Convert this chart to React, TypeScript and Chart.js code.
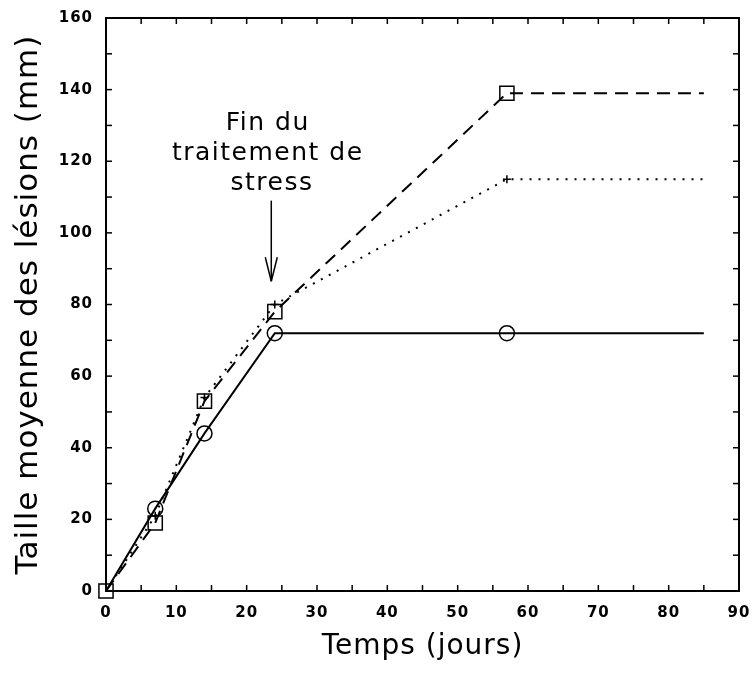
import React, { useEffect, useRef } from 'react';
import { Chart, registerables } from 'chart.js';

Chart.register(...registerables);

// ---- data ----
const days = [0, 7, 14, 24, 57, 85];
const solidSeries = [0, 23, 44, 72, 72, 72];
const dashedSeries = [0, 19, 53, 78, 139, 139];
const dottedSeries = [0, 21, 54, 80, 115, 115];
const xTickValues = [0, 10, 20, 30, 40, 50, 60, 70, 80, 90];
const yTickValues = [0, 20, 40, 60, 80, 100, 120, 140, 160];
const annotationLines = ['Fin du', 'traitement de', 'stress'];
const annotationLineDays = [23, 23, 23.6];
const annotationLineValues = [130.6, 122.2, 113.8];
const arrowDay = 23.5;
const arrowFromValue = 109;
const arrowToValue = 86.5;

const W = 753;
const H = 674;
const FONT = "'DejaVu Sans', sans-serif";

const spacingPlugin = {
  id: 'letterSpacing',
  beforeDraw(chart: any) {
    (chart.ctx as any).letterSpacing = '1px';
  },
};

const framePlugin = {
  id: 'frameTicks',
  afterDraw(chart: any) {
    const { ctx, chartArea, scales } = chart;
    const { left, right, top, bottom } = chartArea;
    const x = scales.x;
    const y = scales.y;
    ctx.save();
    ctx.strokeStyle = '#000';
    ctx.lineWidth = 2;
    ctx.strokeRect(left, top, right - left, bottom - top);
    ctx.lineWidth = 1.5;
    const seg = (a: number, b: number, c: number, d: number) => {
      ctx.beginPath();
      ctx.moveTo(a, b);
      ctx.lineTo(c, d);
      ctx.stroke();
    };
    for (let v = 5; v < 90; v += 5) {
      const px = x.getPixelForValue(v);
      seg(px, bottom, px, bottom - 6);
      seg(px, top, px, top + 6);
    }
    for (let v = 10; v < 160; v += 10) {
      const py = y.getPixelForValue(v);
      seg(left, py, left + 6, py);
      seg(right, py, right - 6, py);
    }
    // annotation arrow
    const ax = x.getPixelForValue(arrowDay);
    const ay0 = y.getPixelForValue(arrowFromValue);
    const ay1 = y.getPixelForValue(arrowToValue);
    ctx.lineWidth = 1.5;
    seg(ax, ay0, ax, ay1);
    seg(ax - 6, ay1 - 24, ax, ay1);
    seg(ax + 6, ay1 - 24, ax, ay1);
    // annotation text
    (ctx as any).letterSpacing = '1.5px';
    ctx.fillStyle = '#000';
    ctx.font = `25px ${FONT}`;
    ctx.textAlign = 'center';
    ctx.textBaseline = 'middle';
    annotationLines.forEach((t, i) => {
      ctx.fillText(t, x.getPixelForValue(annotationLineDays[i]), y.getPixelForValue(annotationLineValues[i]));
    });
    ctx.restore();
  },
};

export default function App() {
  const ref = useRef<HTMLCanvasElement>(null);
  useEffect(() => {
    document.body.style.margin = '0';
    const canvas = ref.current!;
    const pts = (arr: number[]) => arr.map((v, i) => ({ x: days[i], y: v }));
    const chart = new Chart(canvas, {
      type: 'line',
      data: {
        datasets: [
          {
            label: 'Série continue',
            data: pts(solidSeries),
            borderColor: '#000',
            borderWidth: 2,
            pointStyle: 'circle',
            pointRadius: [0, 7.5, 7.5, 7.5, 7.5, 0],
            pointBorderColor: '#000',
            pointBackgroundColor: 'rgba(0,0,0,0)',
            pointBorderWidth: 1.5,
            clip: false,
            tension: 0,
          },
          {
            label: 'Série tiretée',
            data: pts(dashedSeries),
            borderColor: '#000',
            borderWidth: 2,
            borderDash: [13, 8],
            pointStyle: 'rect',
            pointRadius: [10, 10, 10, 10, 10, 0],
            pointBorderColor: '#000',
            pointBackgroundColor: 'rgba(0,0,0,0)',
            pointBorderWidth: 1.5,
            clip: false,
            tension: 0,
          },
          {
            label: 'Série pointillée',
            data: pts(dottedSeries),
            borderColor: '#000',
            borderWidth: 2,
            borderDash: [2, 7],
            pointStyle: 'cross',
            pointRadius: [0, 4, 4, 4, 4, 0],
            pointBorderColor: '#000',
            pointBorderWidth: 1.5,
            clip: false,
            tension: 0,
          },
        ],
      },
      options: {
        animation: false,
        responsive: false,
        devicePixelRatio: 1,
        layout: { padding: { top: 18, right: 14, left: 0, bottom: 0 } },
        plugins: {
          legend: { display: false },
          tooltip: { enabled: false },
        },
        scales: {
          x: {
            type: 'linear',
            min: 0,
            max: 90,
            afterFit: (s: any) => {
              s.height = H - 591;
              s.paddingLeft = 0;
              s.paddingRight = 0;
            },
            afterBuildTicks: (s: any) => {
              s.ticks = xTickValues.map((v) => ({ value: v }));
            },
            grid: { display: false, drawTicks: false },
            border: { display: false },
            ticks: {
              color: '#000',
              padding: 13,
              font: { family: FONT, size: 15, weight: 'bold' },
            },
            title: {
              display: true,
              text: 'Temps (jours)',
              color: '#000',
              font: { family: FONT, size: 28 },
              padding: { top: 0, bottom: 10 },
            },
          },
          y: {
            type: 'linear',
            min: 0,
            max: 160,
            afterFit: (s: any) => {
              s.width = 106;
              s.paddingTop = 0;
              s.paddingBottom = 0;
            },
            afterBuildTicks: (s: any) => {
              s.ticks = yTickValues.map((v) => ({ value: v }));
            },
            grid: { display: false, drawTicks: false },
            border: { display: false },
            ticks: {
              color: '#000',
              padding: 13,
              font: { family: FONT, size: 15, weight: 'bold' },
            },
            title: {
              display: true,
              text: 'Taille moyenne des lésions (mm)',
              color: '#000',
              font: { family: FONT, size: 31 },
              padding: { top: 10, bottom: 0 },
            },
          },
        },
      },
      plugins: [spacingPlugin, framePlugin],
    } as any);
    return () => chart.destroy();
  }, []);
  return (
    <div style={{ width: W, height: H }}>
      <canvas ref={ref} width={W} height={H} style={{ width: W, height: H, display: 'block' }} />
    </div>
  );
}
